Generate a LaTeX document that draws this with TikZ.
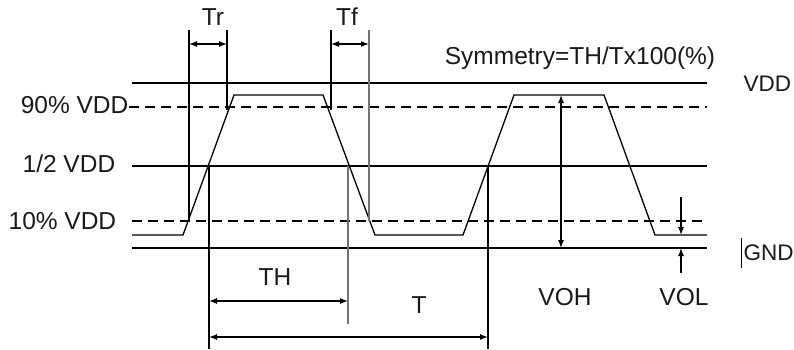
\documentclass[tikz,border=0pt]{standalone}
\usepackage{fontspec}
\setmainfont{Liberation Sans}
\usetikzlibrary{arrows.meta}
\usetikzlibrary{positioning}

\tikzset{
  lbl/.style={inner sep=0pt, font=\fontsize{24.5bp}{29bp}\selectfont, text=black!90},
  rlbl/.style={lbl, font=\fontsize{22.5bp}{27bp}\selectfont},
  dsh/.style={dash pattern=on 10bp off 6bp},
  thin gray/.style={draw=black!55},
}

\begin{document}
\begin{tikzpicture}[x=1bp, y=-1bp, line width=1.3bp, >={Latex[length=8bp,width=6bp]}]
\useasboundingbox (0,0) rectangle (794,349);

% levels
\draw (132,83) -- (707,83);
\draw[dsh] (129,107) -- (707,107);
\draw (132,166) -- (707,166);
\draw[dsh] (132,221) -- (707,221);
\draw (132,248) -- (707,248);

% signal
\draw (132,235) -- (183,235) -- (234,95) -- (323,95) -- (375,235) -- (463,235)
  -- (514,95) -- (604,95) -- (655,235) -- (707,235);

% marker lines
\draw (189,30) -- (189,221);
\draw (227,30) -- (227,110);
\draw (331,30) -- (331,110);
\draw[thin gray] (369,30) -- (369,221);
\draw (209,166) -- (209,349);
\draw[thin gray] (348,166) -- (348,324);
\draw (488,166) -- (488,349);

% level labels
\node[lbl, anchor=east] (l90) at (129,105) {90\% VDD};
\node[lbl, anchor=west] (lhalf) at (22,164) {1/2 VDD};
\node[lbl, anchor=west] (l10) at (8,221) {10\% VDD};
\node[rlbl, anchor=west] (lvdd) at (743,84) {VDD};
\node[rlbl, anchor=west] (lgnd) at (743,253) {GND};
\draw[line width=1bp] (741,238) -- (741,268);

% timing
\coordinate (trA) at (189,44);
\coordinate (trB) at (227,44);
\coordinate (tfA) at (331,44);
\coordinate (tfB) at (369,44);
\draw[<->] (trA) -- (trB);
\draw[<->] (tfA) -- (tfB);
\node[lbl] (tr) at (213,17) {Tr};
\node[lbl] (tf) at (347,17) {Tf};

\coordinate (thA) at (209,301);
\coordinate (thB) at (348,301);
\coordinate (tA) at (209,337);
\coordinate (tB) at (488,337);
\draw[<->] (thA) -- (thB);
\draw[<->] (tA) -- (tB);
\node[lbl] (th) at (275,277) {TH};
\node[lbl] (t) at (419,305) {T};

% voltages
\coordinate (vohA) at (561,95);
\coordinate (vohB) at (561,248);
\draw[<->] (vohA) -- (vohB);
\coordinate (volA) at (681,197);
\coordinate (volB) at (681,235);
\coordinate (volC) at (681,273);
\coordinate (volD) at (681,248);
\draw[->] (volA) -- (volB);
\draw[->] (volC) -- (volD);
\node[lbl] (voh) at (565,297) {VOH};
\node[lbl] (vol) at (684,297) {VOL};

\node[lbl] (sym) at (580,58) {Symmetry=TH/Tx100(\%)};

\end{tikzpicture}
\end{document}
